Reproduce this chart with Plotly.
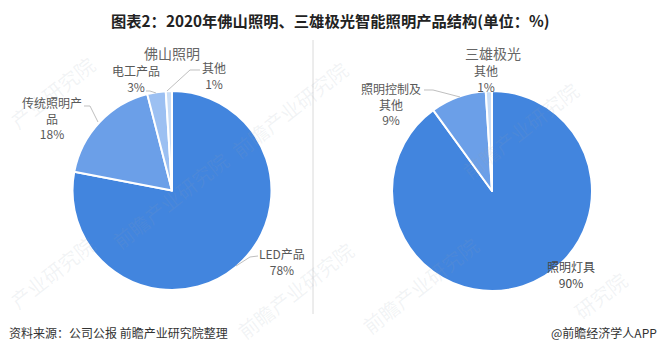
import plotly.graph_objects as go

W, H = 660, 351
FONT = "Noto Sans CJK SC"

title = "图表2：2020年佛山照明、三雄极光智能照明产品结构(单位：%)"
source = "资料来源：公司公报 前瞻产业研究院整理"
credit = "@前瞻经济学人APP"
watermark = "前瞻产业研究院"
watermark_short = "产业研究院"
watermark_end = "研究院"

name_a = "佛山照明"
labels_a = ["LED产品", "传统照明产品", "电工产品", "其他"]
values_a = [78, 18, 3, 1]
colors_a = ["#4285DE", "#6B9FE8", "#9CC0F2", "#C9DDF6"]

name_b = "三雄极光"
labels_b = ["照明灯具", "照明控制及其他", "其他"]
values_b = [90, 9, 1]
colors_b = ["#4285DE", "#6B9FE8", "#C9DDF6"]


def px(x):
    return x / W


def py(y):
    return 1 - y / H


fig = go.Figure()


def add_pie(labels, values, colors, x0, x1, y0, y1):
    fig.add_trace(go.Pie(
        labels=labels, values=values, sort=False, direction="clockwise", rotation=0,
        textinfo="none", hoverinfo="label+percent", showlegend=False,
        marker=dict(colors=colors, line=dict(color="white", width=2)),
        domain=dict(x=[px(x0), px(x1)], y=[py(y1), py(y0)]),
    ))


add_pie(labels_a, values_a, colors_a, 72, 272, 91, 290)
add_pie(labels_b, values_b, colors_b, 392, 592, 91, 291)

annotations = []


def text(x, y, s, size=12, color="#595959", **kw):
    annotations.append(dict(x=px(x), y=py(y), xref="paper", yref="paper", text=s, showarrow=False,
                            font=dict(family=FONT, size=size, color=color),
                            xanchor=kw.pop("xanchor", "center"), yanchor="middle", **kw))


for wx, wy, mark in [(52, 92, watermark_short), (290, 110, watermark), (520, 130, watermark),
                     (52, 272, watermark_short), (295, 290, watermark), (600, 295, watermark_end),
                     (170, 200, watermark), (420, 285, watermark)]:
    text(wx, wy, mark, size=20, color="rgba(150,160,175,0.13)", textangle=-38)

text(330, 20, f"<b>{title}</b>", size=15.3, color="#222222")
text(172, 53, name_a, size=14, color="#666666")
text(493, 53, name_b, size=14, color="#666666")

text(136, 78, f"{labels_a[2]}<br>{values_a[2]}%")
text(214, 75, f"{labels_a[3]}<br>{values_a[3]}%")
text(52, 118, f"传统照明产<br>品<br>{values_a[1]}%")
text(282, 261, f"{labels_a[0]}<br>{values_a[0]}%")

text(486, 78, f"{labels_b[2]}<br>{values_b[2]}%")
text(391, 104, f"照明控制及<br>其他<br>{values_b[1]}%")
text(571, 274, f"{labels_b[0]}<br>{values_b[0]}%", color="#484848")

text(7, 332, source, color="#333333", xanchor="left")
text(659, 332, credit, color="#333333", xanchor="right")

leader = dict(color="#BFBFBF", width=1)
paths = [
    [(98, 122), (90, 106), (84, 106)],
    [(156, 93), (150, 91), (146, 91)],
    [(167, 91), (190, 70), (200, 70)],
    [(236, 266), (250, 257), (258, 256)],
    [(460, 97), (433, 90), (424, 90)],
]
shapes = []
for pts in paths:
    d = " ".join(("M" if i == 0 else "L") + f" {px(a):.5f} {py(b):.5f}" for i, (a, b) in enumerate(pts))
    shapes.append(dict(type="path", xref="paper", yref="paper", path=d, line=leader))
shapes.append(dict(type="line", xref="paper", yref="paper", x0=px(313), x1=px(313), y0=py(40), y1=py(314),
                   line=dict(color="#DADADA", width=1)))

fig.update_layout(width=W, height=H, margin=dict(l=0, r=0, t=0, b=0),
                  paper_bgcolor="white", plot_bgcolor="white",
                  annotations=annotations, shapes=shapes,
                  font=dict(family=FONT))
fig.write_html("out.html", config={"displayModeBar": False},
               post_script="document.body.style.margin='0';document.body.style.overflow='hidden';")
